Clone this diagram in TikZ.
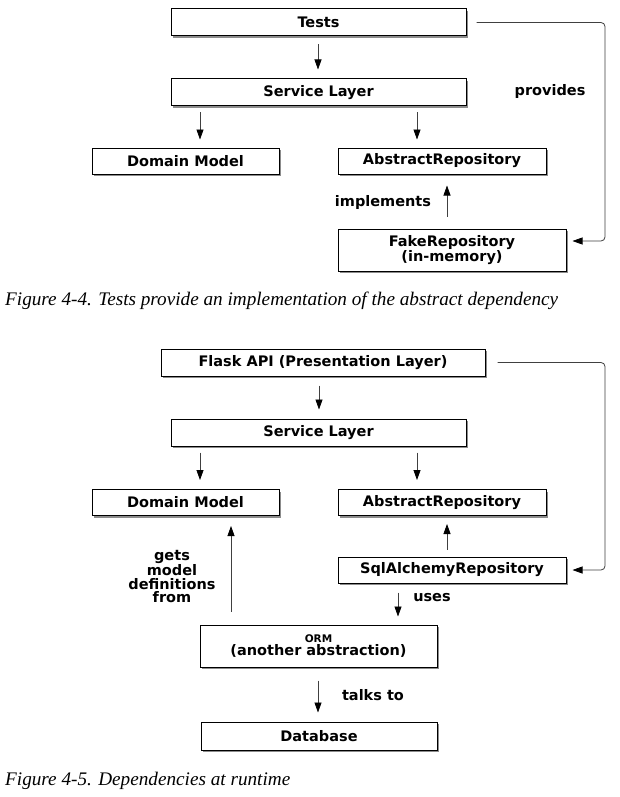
\documentclass[tikz,border=0pt]{standalone}
\usepackage{fontspec}
\setmainfont{Liberation Serif}
\newfontfamily\diafont{DejaVu Sans}
\usetikzlibrary{arrows.meta,shadows}

\begin{document}
\begin{tikzpicture}[
    x = 1pt,
    y = -1pt,
    >={Triangle[length=10pt,width=7pt,color=black]},
    layer/.style = {draw, fill=white, line width=1pt, inner sep=0pt,
    align=center, font=\diafont\bfseries\fontsize{14.5}{13}\selectfont,
    drop shadow={shadow xshift=2pt, shadow yshift=-2pt, fill=black!45, opacity=1}},
    dep/.style = {->, line width=0.8pt, draw=black!75},
    lbl/.style = {inner sep=0pt, align=center,
    font=\diafont\bfseries\fontsize{14.5}{13.5}\selectfont},
    caption/.style = {anchor=base west, inner sep=0pt,
    font=\itshape\fontsize{19.2}{19.2}\selectfont},
]
\useasboundingbox[fill=white] (0,0) rectangle (620,797);

% Figure 4-4
\node[layer, minimum width=295, minimum height=27] (tests) at (318.5,22.5) {Tests};
\node[layer, minimum width=295, minimum height=27] (svc_a) at (318.5,92.5) {Service Layer};
\node[layer, minimum width=187, minimum height=26] (dom_a) at (185.5,161) {Domain Model};
\node[layer, minimum width=208, minimum height=26] (abs_a) at (442,161) {AbstractRepository};
\node[layer, minimum width=228, minimum height=42] (fake) at (452,250) {FakeRepository\\(in-memory)};

\draw[dep, shorten <=8, shorten >=9] (tests.south -| 318,0) -- (svc_a.north -| 318,0);
\draw[dep, shorten <=6, shorten >=8] (svc_a.south -| 200,0) -- (dom_a.north -| 200,0);
\draw[dep, shorten <=6, shorten >=8] (svc_a.south -| 417,0) -- (abs_a.north -| 417,0);
\draw[dep, shorten <=12, shorten >=11] (fake.north -| 447,0) -- (abs_a.south -| 447,0);
\draw[dep, rounded corners=4] ([xshift=10]tests.east) -| (605,120) |- ([xshift=6,yshift=9]fake.east);

\node[lbl] (impl) at (383,202) {implements};
\node[lbl] (prov) at (550,92) {provides};

\node[caption] (cap_a) at (5,305) {Figure 4-4. Tests provide an implementation of the abstract dependency};

% Figure 4-5
\node[layer, minimum width=324, minimum height=27] (flask) at (323,362.5) {Flask API (Presentation Layer)};
\node[layer, minimum width=295, minimum height=27] (svc_b) at (318.5,432.5) {Service Layer};
\node[layer, minimum width=187, minimum height=26] (dom_b) at (185.5,502.5) {Domain Model};
\node[layer, minimum width=208, minimum height=26] (abs_b) at (442,502.5) {AbstractRepository};
\node[layer, minimum width=228, minimum height=26] (sqla) at (452,570) {SqlAlchemyRepository};
\node[layer, minimum width=237, minimum height=42] (orm) at (318.5,646) {{\fontsize{10.5}{10.5}\selectfont ORM}\\(another abstraction)};
\node[layer, minimum width=236, minimum height=28] (db) at (319,736) {Database};

\draw[dep, shorten <=9, shorten >=9] (flask.south -| 319,0) -- (svc_b.north -| 319,0);
\draw[dep, shorten <=6, shorten >=9] (svc_b.south -| 200,0) -- (dom_b.north -| 200,0);
\draw[dep, shorten <=6, shorten >=9] (svc_b.south -| 417,0) -- (abs_b.north -| 417,0);
\draw[dep, shorten <=7, shorten >=8] (sqla.north -| 447,0) -- (abs_b.south -| 447,0);
\draw[dep, shorten <=13, shorten >=10] (orm.north -| 231,0) -- (dom_b.south -| 231,0);
\draw[dep, shorten <=9, shorten >=8] (sqla.south -| 398,0) -- (orm.north -| 398,0);
\draw[dep, shorten <=13, shorten >=9] (orm.south -| 318,0) -- (db.north -| 318,0);
\draw[dep, rounded corners=4] ([xshift=12]flask.east) -| (605,450) |- ([xshift=6]sqla.east);

\node[lbl] (gets) at (172,576.5) {gets\\model\\definitions\\from};
\node[lbl] (uses) at (432,598) {uses};
\node[lbl] (talks) at (373,695) {talks to};

\node[caption] (cap_b) at (5,785) {Figure 4-5. Dependencies at runtime};
\end{tikzpicture}
\end{document}
